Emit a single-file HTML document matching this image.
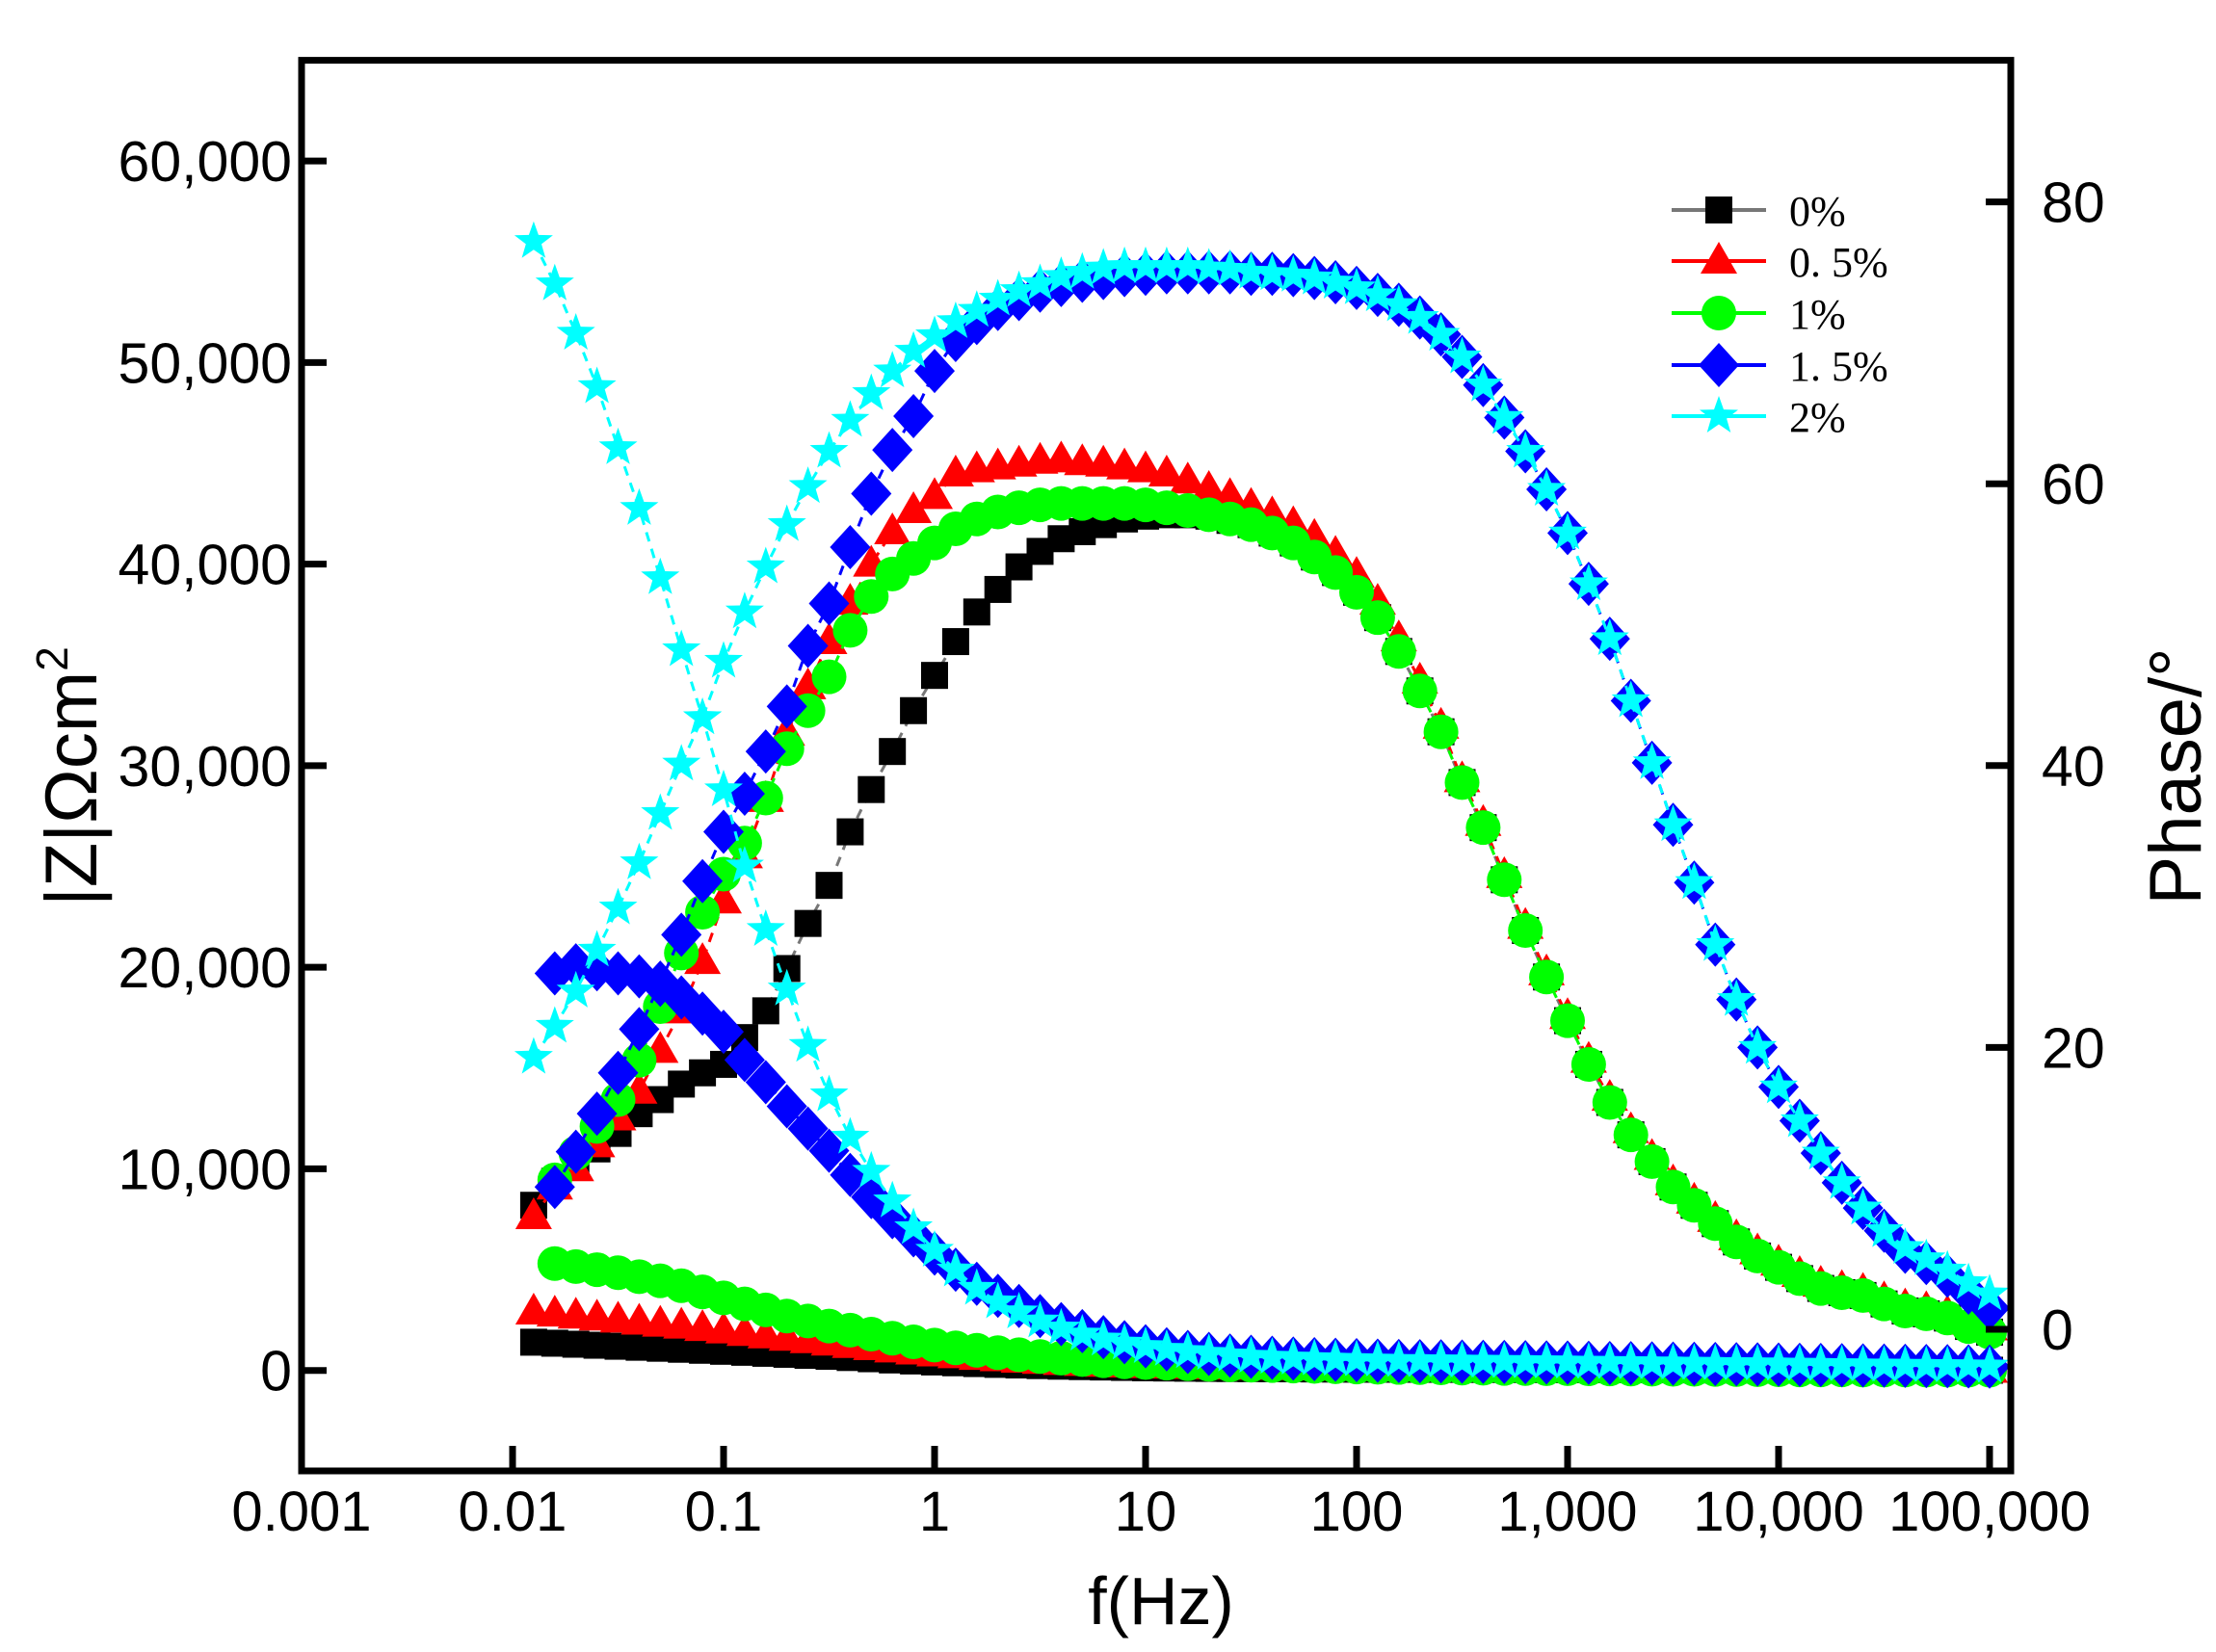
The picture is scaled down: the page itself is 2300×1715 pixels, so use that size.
<!DOCTYPE html>
<html><head><meta charset="utf-8"><style>
html,body{margin:0;padding:0;background:#fff;}
svg{display:block;}
text{font-family:"Liberation Sans",Arial,sans-serif;fill:#000;}
.leg{font-family:"Liberation Serif","Noto Serif CJK SC",serif;}
</style></head><body>
<svg id="chart" width="2300" height="1715" viewBox="0 0 2300 1715" xmlns="http://www.w3.org/2000/svg">
<rect x="0" y="0" width="2300" height="1715" fill="#fff"/>
<g id="marks"></g>
<g id="axes"></g>
<g id="legend"></g>
</svg>
<script>
// ---- data ----
const freqExp = []; for (let i = 0; i < 70; i++) freqExp.push(-1.9 + 0.1 * i);
const xTickLabels = ["0.001","0.01","0.1","1","10","100","1,000","10,000","100,000"];
const leftTickValues = [0,10000,20000,30000,40000,50000,60000];
const leftTickLabels = ["0","10,000","20,000","30,000","40,000","50,000","60,000"];
const rightTickValues = [0,20,40,60,80];
const seriesNames = ["0%","0. 5%","1%","1. 5%","2%"];

const zBlack = [1400,1350,1300,1250,1200,1150,1100,1050,1000,950,900,850,800,750,700,640,580,520,470,420,380,340,300,270,240,210,190,170,150,130,
120,110,100,95,90,85,80,75,70,65,60,58,56,54,52,50,48,46,44,42,40,38,36,34,32,30,28,26,24,22,20,19,18,17,16,15,14,13,12,11];
const zRed = [2900,2800,2700,2600,2500,2400,2300,2200,2080,1960,1840,1720,1600,1480,1360,1240,1130,1020,920,820,730,650,580,510,450,400,350,310,270,240,
220,200,185,170,160,150,140,130,120,110,100,95,90,85,80,75,70,66,62,58,55,52,49,46,43,40,38,36,34,32,30,28,26,24,22,20,18,16,14,12];
const zGreen = [null,5300,5150,5000,4850,4650,4450,4200,3900,3600,3300,3000,2700,2450,2200,2000,1800,1600,1420,1260,1120,1000,880,780,690,610,540,480,430,390,
360,330,300,280,260,240,220,200,185,170,160,150,140,130,120,110,100,95,90,85,80,75,70,65,60,55,50,45,40,35,30,28,26,24,22,20,18,16,14,12];
const zBlue = [null,19700,20100,19900,19700,19550,19130,18500,17700,16800,15400,14300,13100,12000,10900,9700,8600,7600,6700,5800,5000,4300,3700,3200,2700,2300,1950,1650,1400,1200,
1050,920,820,740,680,630,590,560,530,510,490,470,460,450,440,430,420,410,400,390,380,370,360,350,340,330,320,310,300,290,280,270,260,250,240,230,220,210,200,190];
const zCyan = [56000,53900,51450,48800,45770,42760,39320,35750,32380,28800,25020,21870,18920,16120,13670,11570,9880,8410,7080,5960,4980,4070,3400,2900,2450,2100,1800,1550,1350,1180,
1040,930,840,760,700,650,610,580,550,530,510,490,480,470,460,450,440,430,420,410,400,390,380,370,360,350,340,330,320,310,300,290,280,270,260,250,240,230,220,210];

const pBlack = [8.8,10.5,11.8,12.8,13.9,15.3,16.3,17.4,18.2,18.8,20.7,22.6,25.6,28.8,31.5,35.3,38.3,41.0,43.9,46.4,48.8,50.9,52.5,54.1,55.2,56.1,56.6,57.1,57.5,57.7,
57.8,57.8,57.7,57.4,57.1,56.5,55.8,54.8,53.7,52.3,50.5,48.1,45.3,42.4,38.8,35.6,31.9,28.3,25.0,21.9,18.8,16.1,13.8,11.9,10.1,8.8,7.5,6.2,5.2,4.4,3.6,2.9,2.6,2.4,1.8,1.3,1.1,0.8,0.2,-0.2];
const pRed = [8.0,10.1,11.4,13.1,15.0,16.9,19.8,22.6,26.1,30.4,33.6,37.6,42.3,45.6,48.8,51.6,54.3,56.6,58.1,59.1,60.7,61.0,61.2,61.4,61.6,61.7,61.5,61.4,61.2,61.0,
60.7,60.2,59.6,59.1,58.4,57.8,57.1,56.2,55.0,53.5,51.6,49.0,46.0,42.8,39.0,35.9,32.2,28.6,25.3,22.2,19.1,16.4,14.1,12.2,10.4,9.1,7.8,6.5,5.5,4.7,3.9,3.2,2.9,2.7,2.1,1.6,1.4,1.1,0.5,0.1];
const pGreen = [null,10.6,12.5,14.4,16.3,19.1,22.9,26.7,29.6,32.3,34.5,37.7,41.2,43.9,46.3,49.6,52.0,53.6,54.7,55.8,56.8,57.5,58.0,58.3,58.5,58.6,58.6,58.6,58.6,58.5,
58.3,58.1,57.8,57.5,57.1,56.5,55.8,54.8,53.7,52.3,50.5,48.1,45.3,42.4,38.8,35.6,31.9,28.3,25.0,21.9,18.8,16.1,13.8,11.9,10.1,8.8,7.5,6.2,5.2,4.4,3.6,2.9,2.6,2.4,1.8,1.3,1.1,0.8,0.2,-0.2];
const pBlue = [null,10.1,12.6,15.3,18.2,21.3,24.6,28.0,31.8,35.3,38.0,41.0,44.2,48.5,51.5,55.5,59.3,62.4,64.8,68.0,70.2,71.4,72.4,73.1,73.7,74.1,74.4,74.6,74.8,74.9,
75.0,75.0,75.0,75.0,74.9,74.9,74.8,74.6,74.3,73.9,73.4,72.7,71.8,70.6,69.0,67.0,64.7,62.3,59.6,56.5,52.9,49.0,44.6,40.2,35.8,31.7,27.3,23.4,20.0,17.2,14.8,12.5,10.4,8.6,7.0,5.5,4.7,3.8,2.6,1.5];
const pCyan = [19.3,21.5,24.0,26.9,29.9,33.1,36.6,40.1,43.4,47.4,50.9,54.1,57.1,59.8,62.3,64.5,66.4,68.0,69.4,70.5,71.5,72.3,73.1,73.7,74.2,74.7,75.0,75.3,75.4,75.4,
75.4,75.4,75.3,75.2,75.0,74.9,74.8,74.6,74.3,73.9,73.4,72.7,71.8,70.6,69.0,67.0,64.7,62.3,59.6,56.5,52.9,49.0,44.6,40.2,35.8,31.7,27.3,23.4,20.0,17.2,14.8,12.5,10.4,8.6,7.0,5.8,5.0,4.2,3.3,2.5];

// ---- axis functions ----
const X0 = 313, DEC = 219, YL0 = 1422.7, YLK = 0.020927, YR0 = 1380, YRK = 14.63;
const PL = 313, PR = 2087, PT = 62.6, PB = 1527;
function xs(e){ return X0 + (e + 3) * DEC; }
function yl(z){ return YL0 - z * YLK; }
function yr(p){ return YR0 - p * YRK; }

const NS = "http://www.w3.org/2000/svg";
function mk(tag, attrs, parent){ const el = document.createElementNS(NS, tag); for (const k in attrs) el.setAttribute(k, attrs[k]); parent.appendChild(el); return el; }

function marker(type, color, cx, cy, parent){
  let el;
  if (type === "square") el = mk("rect", {x:cx-14, y:cy-14, width:28, height:28, fill:color}, parent);
  else if (type === "tri") el = mk("polygon", {points:`${cx},${cy-20} ${cx+19},${cy+13} ${cx-19},${cy+13}`, fill:color}, parent);
  else if (type === "circle") el = mk("circle", {cx:cx, cy:cy, r:18, fill:color}, parent);
  else if (type === "diamond") el = mk("polygon", {points:`${cx},${cy-23} ${cx+21},${cy} ${cx},${cy+23} ${cx-21},${cy}`, fill:color}, parent);
  else {
    let pts = [];
    for (let k = 0; k < 10; k++){ const a = -Math.PI/2 + k*Math.PI/5; const r = (k%2===0) ? 21 : 8.5; pts.push((cx + r*Math.cos(a)).toFixed(1) + "," + (cy + r*Math.sin(a)).toFixed(1)); }
    el = mk("polygon", {points:pts.join(" "), fill:color}, parent);
  }
  return el;
}

const series = [
  {name:"0pct", type:"square", color:"#000000", line:"#777777", z:zBlack, p:pBlack},
  {name:"0-5pct", type:"tri", color:"#ff0000", line:"#ff0000", z:zRed, p:pRed},
  {name:"1pct", type:"circle", color:"#00ff00", line:"#00ff00", z:zGreen, p:pGreen},
  {name:"1-5pct", type:"diamond", color:"#0000ff", line:"#0000ff", z:zBlue, p:pBlue},
  {name:"2pct", type:"star", color:"#00ffff", line:"#00ffff", z:zCyan, p:pCyan}
];

const marks = document.getElementById("marks");
series.forEach(s => {
  [["z", yl, s.z], ["phase", yr, s.p]].forEach(([kind, yf, arr]) => {
    const g = mk("g", {}, marks);
    
    
    let d = "";
    arr.forEach((v, i) => { if (v === null) return; d += (d ? " L" : "M") + xs(freqExp[i]).toFixed(1) + "," + yf(v).toFixed(1); });
    const ln = mk("path", {d:d, fill:"none", stroke:s.line, "stroke-width":3, "stroke-dasharray":"10 8"}, g);
    
    
    arr.forEach((v, i) => {
      if (v === null) return;
      const m = marker(s.type, s.color, xs(freqExp[i]), yf(v), g);
      
      
    });
  });
});

// ---- axes ----
const ax = document.getElementById("axes");
const frame = mk("rect", {x:PL, y:PT, width:PR-PL, height:PB-PT, fill:"none", stroke:"#000", "stroke-width":7}, ax);


xTickLabels.forEach((lab, k) => {
  const x = xs(k - 3);
  if (k > 0) { const t = mk("line", {x1:x, y1:PB, x2:x, y2:PB-26, stroke:"#000", "stroke-width":7}, ax);
    
     }
  const tx = mk("text", {x:x, y:1589, "font-size":58, "text-anchor":"middle"}, ax);
  tx.textContent = lab;
  
  
});
leftTickValues.forEach((v, k) => {
  const y = yl(v);
  const t = mk("line", {x1:PL, y1:y, x2:PL+26, y2:y, stroke:"#000", "stroke-width":7}, ax);
  
  
  const tx = mk("text", {x:303, y:y+21, "font-size":59, "text-anchor":"end"}, ax);
  tx.textContent = leftTickLabels[k];
  
  
});
rightTickValues.forEach(v => {
  const y = yr(v);
  const t = mk("line", {x1:PR, y1:y, x2:PR-26, y2:y, stroke:"#000", "stroke-width":7}, ax);
  
  
  const tx = mk("text", {x:2119, y:y+21, "font-size":59, "text-anchor":"start"}, ax);
  tx.textContent = String(v);
  
  
});

// ---- legend ----
const lg = document.getElementById("legend");
const legY = [218, 271, 325, 379, 432];
series.forEach((s, k) => {
  const g = mk("g", {}, lg);
  
  
  mk("line", {x1:1735, y1:legY[k], x2:1833, y2:legY[k], stroke:s.line, "stroke-width":4}, g);
  marker(s.type, s.color, 1784, legY[k], g);
  const tx = mk("text", {x:1857, y:legY[k]+16, "font-size":44, class:"leg"}, g);
  tx.textContent = seriesNames[k];
});
</script>
<script>
(function(){
  const svg = document.getElementById("chart");
  const NS = "http://www.w3.org/2000/svg";
  function t(attrs, txt, name){ const e = document.createElementNS(NS, "text"); for (const k in attrs) e.setAttribute(k, attrs[k]); e.textContent = txt;
    
    
    svg.appendChild(e); return e; }
  const yt = document.createElementNS(NS, "text");
  yt.setAttribute("transform", "translate(100,806) rotate(-90)");
  yt.setAttribute("text-anchor", "middle");
  yt.setAttribute("font-size", "76");
  
  
  yt.innerHTML = '|Z|Ωcm<tspan font-size="46" dy="-30">2</tspan>';
  svg.appendChild(yt);
  t({x:1205, y:1686, "font-size":70, "text-anchor":"middle"}, "f(Hz)", "x-axis-title");
  t({transform:"translate(2284,806) rotate(-90)", "font-size":76, "text-anchor":"middle"}, "Phase/°", "right-y-axis-title");
})();
</script>
</body></html>
